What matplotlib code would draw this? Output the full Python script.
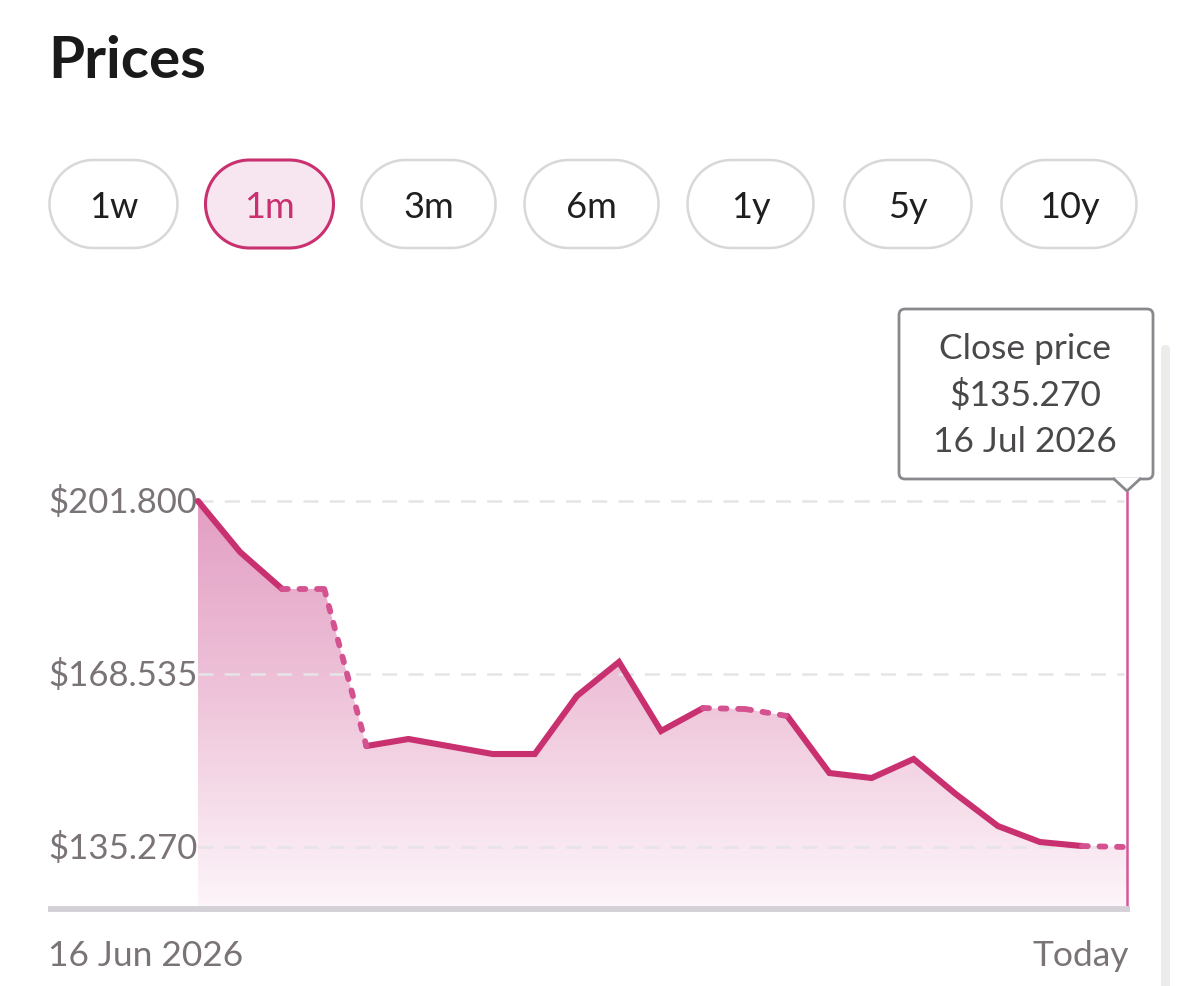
"""Prices card: 1m close-price line with gradient fill, range pills and hover tooltip."""
import matplotlib
matplotlib.use("Agg")
import matplotlib.pyplot as plt
import numpy as np
from matplotlib.colors import LinearSegmentedColormap
from matplotlib.patches import FancyBboxPatch, Polygon
from matplotlib.transforms import blended_transform_factory

plt.rcParams["font.family"] = ["Lato", "DejaVu Sans"]

# trading days 16 Jun .. 16 Jul 2026
dates = ["16 Jun", "17 Jun", "18 Jun", "19 Jun", "22 Jun", "23 Jun", "24 Jun", "25 Jun",
         "26 Jun", "29 Jun", "30 Jun", "1 Jul", "2 Jul", "3 Jul", "6 Jul", "7 Jul",
         "8 Jul", "9 Jul", "10 Jul", "13 Jul", "14 Jul", "15 Jul", "16 Jul"]
close = [201.80, 191.99, 184.88, 184.88, 154.69, 156.04, 154.60, 153.15, 153.15, 164.30,
         170.84, 157.58, 161.99, 161.80, 160.46, 149.50, 148.54, 152.19, 145.46, 139.31,
         136.23, 135.46, 135.27]
estimated = [3, 13, 22]          # no close recorded -> segments drawn dashed
y_ticks = [135.270, 168.535, 201.800]
x_labels = ["16 Jun 2026", "Today"]
ranges = ["1w", "1m", "3m", "6m", "1y", "5y", "10y"]
selected = "1m"
tip_title = "Close price"
tip_date = "16 Jul 2026"

PINK = "#c9306f"
PINK_DASH = "#d4528f"
GREY_TXT = "#7a7378"

W, Hh = 1179, 987
fig = plt.figure(figsize=(W / 100, Hh / 100), dpi=100)

# ---- chart axes (pixel box 48..1130 x 490..910)
YLO, YHI = 123.35, 204.11
ax = fig.add_axes([48 / W, 1 - 910 / Hh, (1130 - 48) / W, (910 - 490) / Hh])
x = np.arange(len(close))
y = np.array(close)
ax.set_xlim(-3.563, 22.14)
ax.set_ylim(YLO, YHI)
for s in ax.spines.values():
    s.set_visible(False)
ax.set_xticks([]); ax.set_yticks([])

# gradient fill under the line
x_fill = np.append(x, 22.07)
y_fill = np.append(y, y[-1])
poly = ax.fill_between(x_fill, y_fill, YLO, color="none", lw=0)
cmap = LinearSegmentedColormap.from_list("fillgrad", ["#fdf6fa", "#efc6db", "#e39ec3"])
grad = np.linspace(0, 1, 256)[:, None]
img = ax.imshow(grad, cmap=cmap, aspect="auto", origin="lower",
                extent=[x[0], x_fill[-1], YLO, 201.8], zorder=1)
img.set_clip_path(poly.get_paths()[0], transform=ax.transData)

# dashed grid at the y ticks
for v in y_ticks:
    ax.plot([x[0], x[-1]], [v, v], color="#e6e4e6", lw=1.8, dashes=(6, 4.5), zorder=2)
trans = blended_transform_factory(ax.transAxes, ax.transData)
for v in y_ticks:
    ax.text(0, v, f"${v:.3f}", transform=trans, ha="left", va="center",
            fontsize=25, color=GREY_TXT, zorder=3)

# line: solid between recorded closes, dashed around estimated ones
dashed = np.zeros(len(close) - 1, bool)
for i in estimated:
    dashed[max(i - 1, 0)] = True
    if i < len(close) - 1:
        dashed[i] = True
solid_y = np.full(len(close), np.nan)
for k in range(len(dashed)):
    if not dashed[k]:
        solid_y[k] = y[k]; solid_y[k + 1] = y[k + 1]
ax.plot(x, solid_y, color=PINK, lw=4.4, solid_joinstyle="miter", solid_capstyle="round", zorder=4)
for k in range(len(dashed)):
    if dashed[k]:
        ax.plot(x[k:k + 2], y[k:k + 2], color=PINK_DASH, lw=4.2, dashes=(1.0, 2.0),
                dash_capstyle="round", zorder=4)

# hover marker line
ax.plot([22.07, 22.07], [YLO, 203.5], color="#d4579b", lw=1.8, zorder=5)

# baseline
ax.axhline(YLO, color="#d3d1d5", lw=4.2, zorder=6, clip_on=False, solid_capstyle="butt")

# ---- overlay in pixel coordinates for card chrome
ov = fig.add_axes([0, 0, 1, 1])
ov.set_xlim(0, W); ov.set_ylim(Hh, 0); ov.axis("off")
ov.patch.set_alpha(0)

ov.text(48, 62, "Prices", fontsize=42, fontweight="bold", color="#1a1a1a", va="center", ha="left")


def pill(x0, x1, yc, h):
    r = h / 2
    t = np.linspace(-np.pi / 2, np.pi / 2, 60)
    right = np.column_stack([x1 - r + r * np.cos(t), yc + r * np.sin(t)])
    left = np.column_stack([x0 + r - r * np.cos(t), yc - r * np.sin(t)])
    return np.vstack([right, left])


pill_x = [48, 204, 360, 523, 686, 843, 1000]
pill_w = [131, 131, 137, 137, 129, 130, 138]
for lab, px, pw in zip(ranges, pill_x, pill_w):
    sel = lab == selected
    ov.add_patch(Polygon(pill(px + 1.5, px + pw - 1.5, 205, 88), closed=True,
                         fc="#f7e5ef" if sel else "white",
                         ec=PINK if sel else "#d9d7d9", lw=2.2 if sel else 1.8))
    ov.text(px + pw / 2, 207, lab, fontsize=26, ha="center", va="center",
            color=PINK if sel else "#1f1f1f")

# tooltip box with pointer
ov.add_patch(FancyBboxPatch((899, 310), 254, 170, boxstyle="round,pad=0,rounding_size=6",
                            fc="white", ec="#8b888d", lw=2))
ov.add_patch(Polygon([[1114, 478.5], [1127, 492], [1140, 478.5]], closed=True,
                     fc="white", ec="none", zorder=5))
ov.plot([1114, 1127, 1140], [480, 492, 480], color="#8b888d", lw=2, zorder=6)
for ty, t in zip([349, 396, 442], [tip_title, f"${close[-1]:.3f}", tip_date]):
    ov.text(1025, ty, t, fontsize=25.5, ha="center", va="center", color="#4b484c")

# x labels
ov.text(48, 956, x_labels[0], fontsize=25.5, ha="left", va="center", color=GREY_TXT)
ov.text(1129, 956, x_labels[1], fontsize=25.5, ha="right", va="center", color=GREY_TXT)

# scrollbar
ov.add_patch(FancyBboxPatch((1161, 346), 9, 660, boxstyle="round,pad=0,rounding_size=4.5",
                            fc="#ececec", ec="none"))

fig.savefig("out.png", dpi=100)
